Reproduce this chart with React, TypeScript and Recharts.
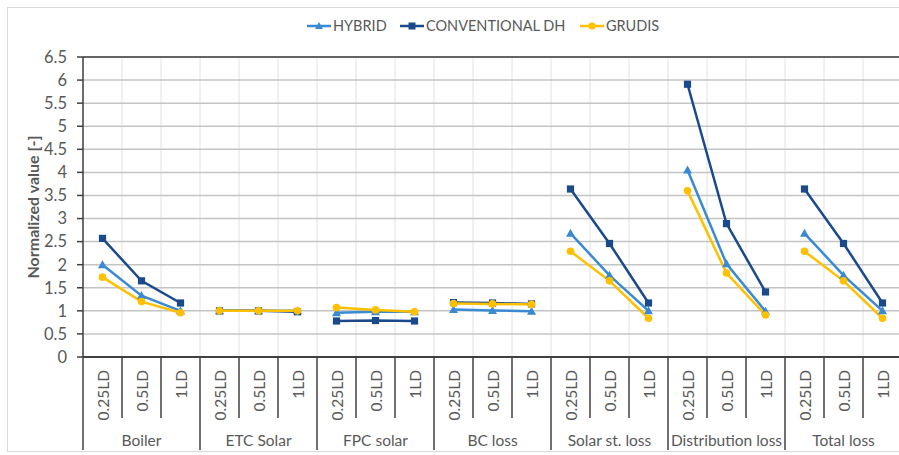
import React from "react";
import {
  LineChart,
  Line,
  XAxis,
  YAxis,
  CartesianGrid,
  ReferenceLine,
} from "recharts";

const groups = [
  "Boiler",
  "ETC Solar",
  "FPC solar",
  "BC loss",
  "Solar st. loss",
  "Distribution loss",
  "Total loss",
];
const subLabels = ["0.25LD", "0.5LD", "1LD"];

const hybrid = [
  2.0, 1.33, 1.0, 1.0, 1.0, 1.0, 0.96, 0.98, 0.98, 1.03, 1.01, 0.99, 2.68, 1.77,
  1.0, 4.05, 2.02, 0.99, 2.68, 1.77, 1.0,
];
const conventional = [
  2.57, 1.65, 1.17, 1.0, 1.0, 0.98, 0.78, 0.79, 0.78, 1.18, 1.17, 1.15, 3.64,
  2.46, 1.17, 5.91, 2.89, 1.41, 3.64, 2.46, 1.17,
];
const grudis = [
  1.73, 1.2, 0.96, 1.0, 1.0, 1.0, 1.07, 1.02, 0.98, 1.16, 1.15, 1.14, 2.29,
  1.65, 0.84, 3.6, 1.82, 0.91, 2.29, 1.65, 0.84,
];

const majorTicks = [0, 0.5, 1, 1.5, 2, 2.5, 3, 3.5, 4, 4.5, 5, 5.5, 6, 6.5];
const minorTicks = Array.from({ length: 66 }, (_, k) => Math.round(k) / 10);

const seriesDefs = [
  { key: "h", name: "HYBRID", color: "#3A8AD2", values: hybrid, marker: "tri" },
  { key: "c", name: "CONVENTIONAL DH", color: "#1B4A8A", values: conventional, marker: "sq" },
  { key: "u", name: "GRUDIS", color: "#FFC000", values: grudis, marker: "circ" },
];

const FONT = "Lato, 'Open Sans', sans-serif";
const TXT = "#595959";
const AX = "#404040";

// layout constants
const CW = 910;
const CH = 455;
const PLOT_LEFT = 83;
const PLOT_TOP = 57;
const PLOT_BOTTOM = 357;
const N = 21;
const BW = (CW - 8 - PLOT_LEFT) / N;

const rows = Array.from({ length: N }, (_, i) => {
  const g = Math.floor(i / 3);
  const r: Record<string, number | string | null> = { idx: i };
  seriesDefs.forEach((s) => {
    for (let k = 0; k < groups.length; k++) {
      r[`${s.key}${k}`] = k === g ? s.values[i] : null;
    }
  });
  return r;
});

const makeDot = (marker: string, color: string) => (props: any) => {
  const { cx, cy, index } = props;
  if (cx == null || cy == null || Number.isNaN(cy)) return <g key={`d${index}`} />;
  if (marker === "tri") {
    return (
      <path
        key={`d${index}`}
        d={`M${cx},${cy - 4.5} L${cx + 4.5},${cy + 3.5} L${cx - 4.5},${cy + 3.5} Z`}
        fill={color}
      />
    );
  }
  if (marker === "sq") {
    return <rect key={`d${index}`} x={cx - 3.6} y={cy - 3.6} width={7.2} height={7.2} fill={color} />;
  }
  return <circle key={`d${index}`} cx={cx} cy={cy} r={3.8} fill={color} />;
};

const XTick = (props: any) => {
  const { x, payload } = props;
  const i = Number(payload.value);
  const half = BW / 2;
  return (
    <g>
      <line
        x1={x - half}
        y1={PLOT_BOTTOM}
        x2={x - half}
        y2={i % 3 === 0 ? 450 : 418}
        stroke={AX}
        strokeWidth={1.5}
      />
      {i === N - 1 && (
        <line x1={x + half} y1={PLOT_BOTTOM} x2={x + half} y2={450} stroke={AX} strokeWidth={1.5} />
      )}
      <text
        transform={`translate(${x},370) rotate(-90)`}
        textAnchor="end"
        dominantBaseline="central"
        fontSize={15.5}
        fontFamily={FONT}
        fill={TXT}
      >
        {subLabels[i % 3]}
      </text>
      {i % 3 === 1 && (
        <text
          x={x}
          y={440}
          textAnchor="middle"
          dominantBaseline="central"
          fontSize={15.5}
          fontFamily={FONT}
          fill={TXT}
        >
          {groups[Math.floor(i / 3)]}
        </text>
      )}
    </g>
  );
};

const LegendIcon = ({ marker, color }: { marker: string; color: string }) => (
  <svg width={24} height={12} style={{ display: "block" }}>
    <line x1={0} y1={6} x2={24} y2={6} stroke={color} strokeWidth={2.5} />
    {marker === "tri" && <path d="M12,2 L16,9 L8,9 Z" fill={color} />}
    {marker === "sq" && <rect x={8.5} y={2.5} width={7} height={7} fill={color} />}
    {marker === "circ" && <circle cx={12} cy={6} r={3.6} fill={color} />}
  </svg>
);

const legendLefts = [307, 400, 580];

export default function App() {
  return (
    <div
      style={{
        position: "absolute",
        left: 0,
        top: 0,
        width: 899,
        height: 455,
        overflow: "hidden",
        background: "#fff",
      }}
    >
      <div
        style={{
          position: "absolute",
          left: 7,
          top: 7,
          width: 920,
          height: 445,
          border: "1px solid #d9d9d9",
          boxSizing: "border-box",
        }}
      />
      {seriesDefs.map((s, k) => (
        <div
          key={s.key}
          style={{
            position: "absolute",
            left: legendLefts[k],
            top: 17,
            display: "flex",
            alignItems: "center",
            gap: 2,
            fontFamily: FONT,
            fontSize: 14.5,
            color: TXT,
            lineHeight: "18px",
            whiteSpace: "nowrap",
          }}
        >
          <LegendIcon marker={s.marker} color={s.color} />
          <span>{s.name}</span>
        </div>
      ))}
      <div style={{ position: "absolute", left: 0, top: 0 }}>
        <LineChart
          width={CW}
          height={CH}
          data={rows}
          margin={{ top: PLOT_TOP, right: 8, bottom: 8, left: 0 }}
        >
          <CartesianGrid
            yAxisId="minor"
            stroke="#e2e2e2"
            strokeWidth={1}
            vertical={true}
            verticalCoordinatesGenerator={({ offset }: any) =>
              Array.from({ length: N + 1 }, (_, k) => offset.left + (k * offset.width) / N)
            }
          />
          <CartesianGrid vertical={false} stroke="#c4c4c4" strokeWidth={1.5} />
          <XAxis
            dataKey="idx"
            type="category"
            scale="band"
            height={90}
            interval={0}
            tickLine={false}
            axisLine={{ stroke: AX, strokeWidth: 2 }}
            tick={<XTick />}
          />
          <YAxis
            yAxisId="minor"
            orientation="left"
            mirror
            width={0}
            domain={[0, 6.5]}
            ticks={minorTicks}
            type="number"
            tick={false}
            axisLine={false}
            tickLine={{ stroke: AX, strokeWidth: 1 }}
            tickSize={4}
            allowDataOverflow
          />
          <YAxis
            width={PLOT_LEFT}
            domain={[0, 6.5]}
            ticks={majorTicks}
            type="number"
            interval={0}
            tickSize={6}
            tickMargin={10}
            tickFormatter={(v: number) => String(v)}
            tick={{ fontSize: 16.5, fontFamily: FONT, fill: TXT }}
            axisLine={{ stroke: AX, strokeWidth: 1.5 }}
            tickLine={{ stroke: AX, strokeWidth: 1.5 }}
            label={{
              content: () => (
                <text
                  transform={`translate(32,${(PLOT_TOP + PLOT_BOTTOM) / 2}) rotate(-90)`}
                  textAnchor="middle"
                  dominantBaseline="central"
                  fontSize={16}
                  fontWeight="bold"
                  fontFamily={FONT}
                  fill={TXT}
                >
                  Normalized value [-]
                </text>
              ),
            }}
          />
          <ReferenceLine y={6.5} stroke={AX} strokeWidth={1.5} />
          {seriesDefs.map((s) =>
            groups.map((_, g) => (
              <Line
                key={`${s.key}${g}`}
                dataKey={`${s.key}${g}`}
                name={s.name}
                stroke={s.color}
                strokeWidth={2.5}
                dot={makeDot(s.marker, s.color)}
                activeDot={false}
                connectNulls={false}
                isAnimationActive={false}
                legendType="none"
              />
            ))
          )}
        </LineChart>
      </div>
    </div>
  );
}
